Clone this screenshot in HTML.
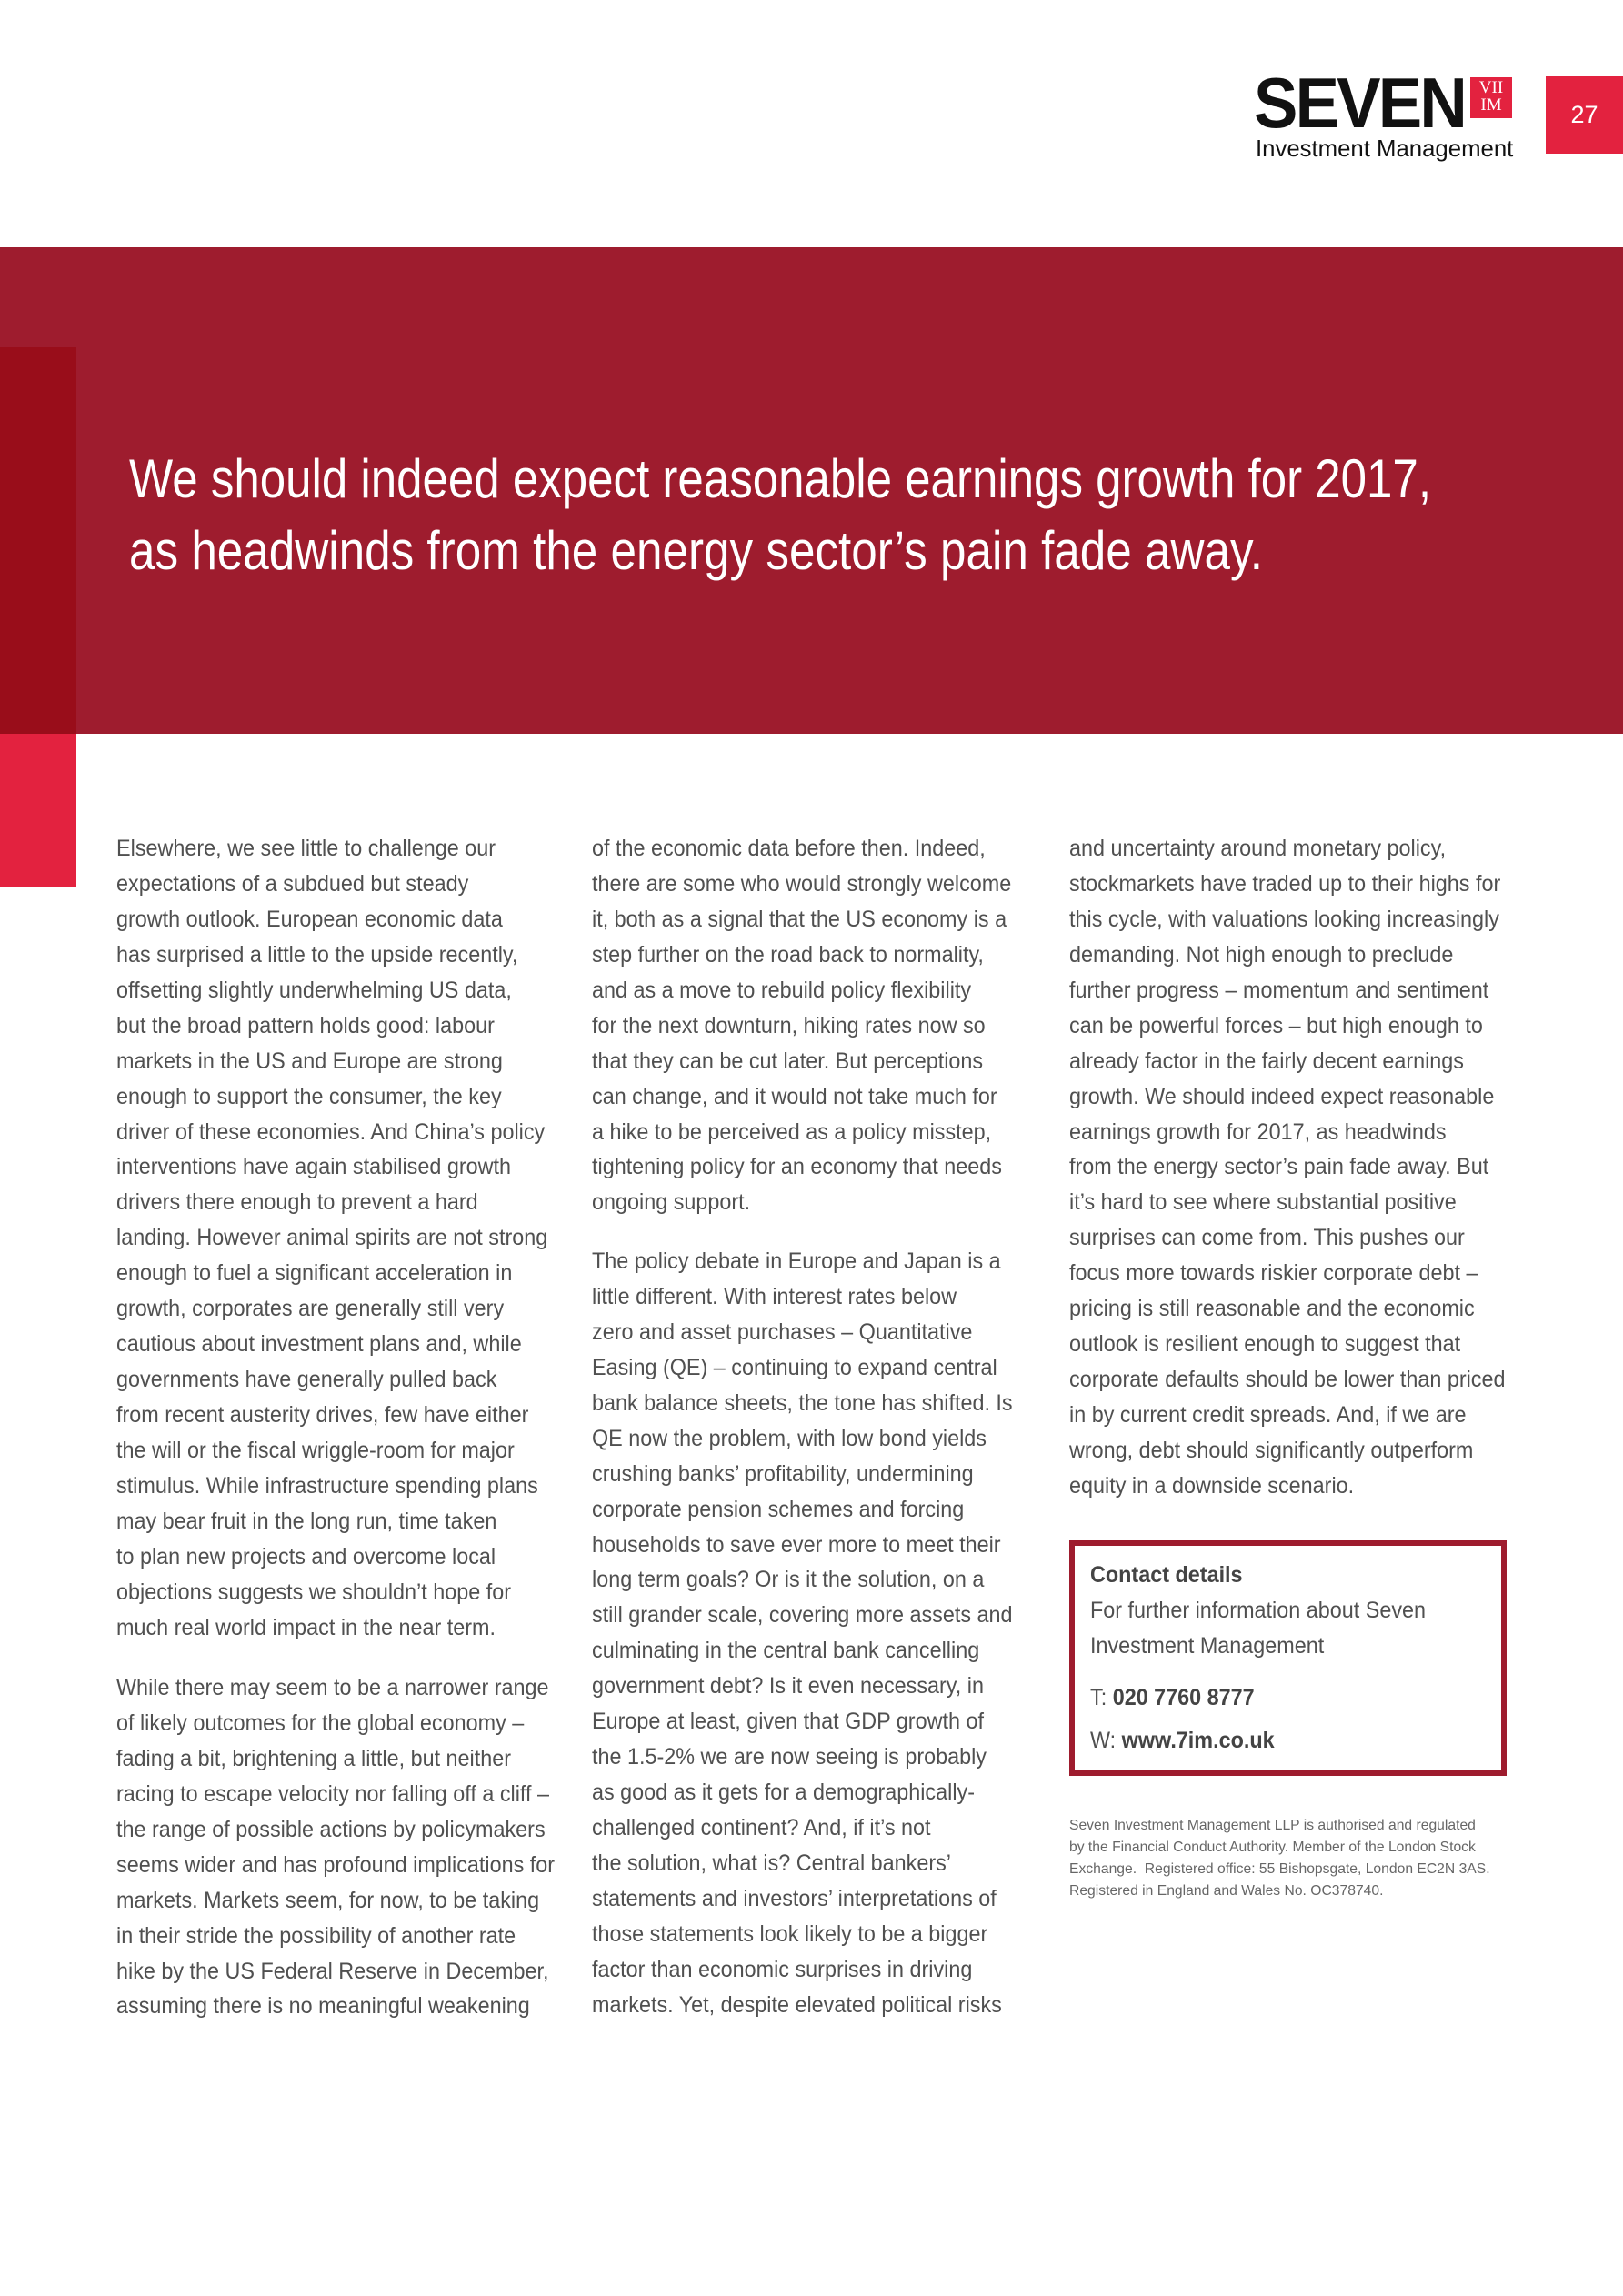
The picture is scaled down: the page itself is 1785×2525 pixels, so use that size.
<!DOCTYPE html>
<html><head><meta charset="utf-8">
<style>
html,body{margin:0;padding:0;}
body{width:1785px;height:2525px;position:relative;background:#fff;overflow:hidden;font-family:"Liberation Sans",sans-serif;}
.abs{position:absolute;}
.col{position:absolute;font-size:25px;line-height:38.95px;color:#505050;white-space:nowrap;transform:scaleX(0.935);transform-origin:0 0;}
.col div{height:38.95px;}
.fine{position:absolute;left:1176px;top:1996px;font-size:16px;line-height:24px;color:#666;white-space:nowrap;transform:scaleX(0.98);transform-origin:0 0;}
</style></head>
<body>
<div class="abs" style="left:1377px;top:78px;width:300px;height:100px;">
  <div class="abs" style="left:2px;top:-4px;font-size:78px;font-weight:bold;color:#111;letter-spacing:-3px;line-height:78px;transform:scaleX(0.93);transform-origin:0 0;">SEVEN</div>
  <div class="abs" style="left:240px;top:7px;width:46px;height:45px;background:#e3223f;color:#fff;font-family:'Liberation Serif',serif;font-size:19px;line-height:19px;text-align:center;padding-top:2px;box-sizing:border-box;">VII<br>IM</div>
  <div class="abs" style="left:4px;top:70px;font-size:26px;color:#111;white-space:nowrap;transform:scaleX(0.99);transform-origin:0 0;">Investment Management</div>
</div>
<div class="abs" style="left:1700px;top:84px;width:85px;height:85px;background:#e3223f;color:#fff;font-size:27px;line-height:85px;text-align:center;">27</div>

<div class="abs" style="left:0;top:272px;width:1785px;height:535px;background:#9e1c2e;"></div>
<div class="abs" style="left:0;top:382px;width:84px;height:425px;background:#990d1a;"></div>
<div class="abs" style="left:0;top:807px;width:84px;height:169px;background:#e3223f;"></div>
<svg class="abs" style="left:0;top:272px;" width="1785" height="535">
  <text x="142" y="275" fill="#fff" font-family="Liberation Sans, sans-serif" font-size="60" textLength="1432" lengthAdjust="spacingAndGlyphs">We should indeed expect reasonable earnings growth for 2017,</text>
  <text x="142" y="354" fill="#fff" font-family="Liberation Sans, sans-serif" font-size="60" textLength="1247" lengthAdjust="spacingAndGlyphs">as headwinds from the energy sector’s pain fade away.</text>
</svg>

<div class="col" style="left:128px;top:914px;">
<div>Elsewhere, we see little to challenge our</div>
<div>expectations of a subdued but steady</div>
<div>growth outlook. European economic data</div>
<div>has surprised a little to the upside recently,</div>
<div>offsetting slightly underwhelming US data,</div>
<div>but the broad pattern holds good: labour</div>
<div>markets in the US and Europe are strong</div>
<div>enough to support the consumer, the key</div>
<div>driver of these economies. And China’s policy</div>
<div>interventions have again stabilised growth</div>
<div>drivers there enough to prevent a hard</div>
<div>landing. However animal spirits are not strong</div>
<div>enough to fuel a significant acceleration in</div>
<div>growth, corporates are generally still very</div>
<div>cautious about investment plans and, while</div>
<div>governments have generally pulled back</div>
<div>from recent austerity drives, few have either</div>
<div>the will or the fiscal wriggle-room for major</div>
<div>stimulus. While infrastructure spending plans</div>
<div>may bear fruit in the long run, time taken</div>
<div>to plan new projects and overcome local</div>
<div>objections suggests we shouldn’t hope for</div>
<div>much real world impact in the near term.</div>
</div>
<div class="col" style="left:128px;top:1837px;">
<div>While there may seem to be a narrower range</div>
<div>of likely outcomes for the global economy –</div>
<div>fading a bit, brightening a little, but neither</div>
<div>racing to escape velocity nor falling off a cliff –</div>
<div>the range of possible actions by policymakers</div>
<div>seems wider and has profound implications for</div>
<div>markets. Markets seem, for now, to be taking</div>
<div>in their stride the possibility of another rate</div>
<div>hike by the US Federal Reserve in December,</div>
<div>assuming there is no meaningful weakening</div>
</div>

<div class="col" style="left:651px;top:914px;">
<div>of the economic data before then. Indeed,</div>
<div>there are some who would strongly welcome</div>
<div>it, both as a signal that the US economy is a</div>
<div>step further on the road back to normality,</div>
<div>and as a move to rebuild policy flexibility</div>
<div>for the next downturn, hiking rates now so</div>
<div>that they can be cut later. But perceptions</div>
<div>can change, and it would not take much for</div>
<div>a hike to be perceived as a policy misstep,</div>
<div>tightening policy for an economy that needs</div>
<div>ongoing support.</div>
</div>
<div class="col" style="left:651px;top:1368px;">
<div>The policy debate in Europe and Japan is a</div>
<div>little different. With interest rates below</div>
<div>zero and asset purchases – Quantitative</div>
<div>Easing (QE) – continuing to expand central</div>
<div>bank balance sheets, the tone has shifted. Is</div>
<div>QE now the problem, with low bond yields</div>
<div>crushing banks’ profitability, undermining</div>
<div>corporate pension schemes and forcing</div>
<div>households to save ever more to meet their</div>
<div>long term goals? Or is it the solution, on a</div>
<div>still grander scale, covering more assets and</div>
<div>culminating in the central bank cancelling</div>
<div>government debt? Is it even necessary, in</div>
<div>Europe at least, given that GDP growth of</div>
<div>the 1.5-2% we are now seeing is probably</div>
<div>as good as it gets for a demographically-</div>
<div>challenged continent? And, if it’s not</div>
<div>the solution, what is? Central bankers’</div>
<div>statements and investors’ interpretations of</div>
<div>those statements look likely to be a bigger</div>
<div>factor than economic surprises in driving</div>
<div>markets. Yet, despite elevated political risks</div>
</div>

<div class="col" style="left:1176px;top:914px;">
<div>and uncertainty around monetary policy,</div>
<div>stockmarkets have traded up to their highs for</div>
<div>this cycle, with valuations looking increasingly</div>
<div>demanding. Not high enough to preclude</div>
<div>further progress – momentum and sentiment</div>
<div>can be powerful forces – but high enough to</div>
<div>already factor in the fairly decent earnings</div>
<div>growth. We should indeed expect reasonable</div>
<div>earnings growth for 2017, as headwinds</div>
<div>from the energy sector’s pain fade away. But</div>
<div>it’s hard to see where substantial positive</div>
<div>surprises can come from. This pushes our</div>
<div>focus more towards riskier corporate debt –</div>
<div>pricing is still reasonable and the economic</div>
<div>outlook is resilient enough to suggest that</div>
<div>corporate defaults should be lower than priced</div>
<div>in by current credit spreads. And, if we are</div>
<div>wrong, debt should significantly outperform</div>
<div>equity in a downside scenario.</div>
</div>

<div class="abs" style="left:1176px;top:1694px;width:481px;height:259px;border:6px solid #9e1c2e;box-sizing:border-box;"></div>
<div class="col" style="left:1199px;top:1713px;line-height:39px;">
<div style="font-weight:bold;color:#444;">Contact details</div>
<div>For further information about Seven</div>
<div>Investment Management</div>
<div style="margin-top:18px;">T: <b style="color:#444;">020 7760 8777</b></div>
<div style="margin-top:8px;">W: <b style="color:#444;">www.7im.co.uk</b></div>
</div>

<div class="fine">
<div>Seven Investment Management LLP is authorised and regulated</div>
<div>by the Financial Conduct Authority. Member of the London Stock</div>
<div>Exchange.&nbsp; Registered office: 55 Bishopsgate, London EC2N 3AS.</div>
<div>Registered in England and Wales No. OC378740.</div>
</div>
</body></html>
